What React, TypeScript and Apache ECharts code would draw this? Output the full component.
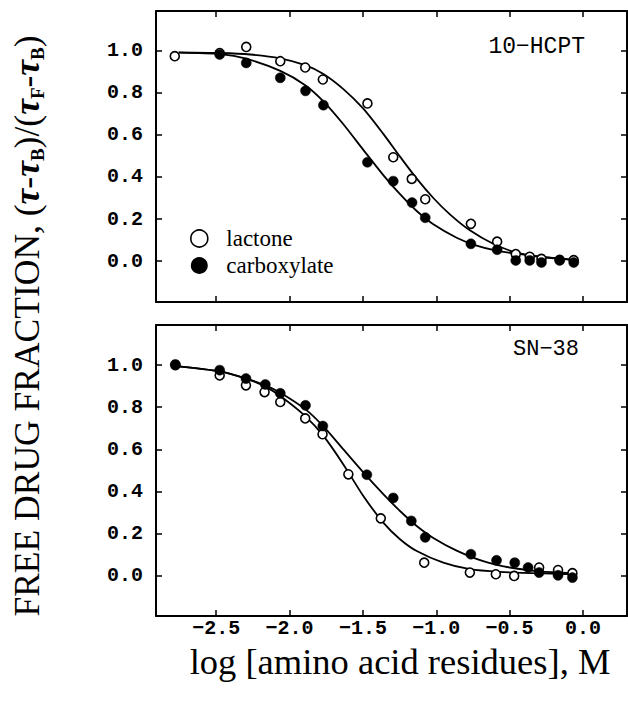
import React, { useEffect, useRef } from "react";
import * as echarts from "echarts";

// ---- axis ticks ----
const xTicks = [-2.5, -2.0, -1.5, -1.0, -0.5, 0.0];
const yTicks = [0.0, 0.2, 0.4, 0.6, 0.8, 1.0];

// ---- panel labels ----
const topPanelLabel = "10\u2212HCPT";
const bottomPanelLabel = "SN\u221238";
const legendNames = ["lactone", "carboxylate"];

// ---- 10-HCPT (top panel) measured points ----
const hcptLactone = [
  [-2.782, 0.975], [-2.476, 0.99], [-2.295, 1.019], [-2.063, 0.951], [-1.893, 0.921],
  [-1.773, 0.864], [-1.469, 0.75], [-1.293, 0.494], [-1.167, 0.391], [-1.075, 0.294],
  [-0.764, 0.177], [-0.585, 0.092], [-0.458, 0.033], [-0.363, 0.02], [-0.283, 0.01],
  [-0.159, 0.006], [-0.063, 0.004],
];
const hcptCarboxylate = [
  [-2.476, 0.983], [-2.295, 0.943], [-2.063, 0.872], [-1.891, 0.81], [-1.769, 0.742],
  [-1.469, 0.47], [-1.293, 0.38], [-1.165, 0.278], [-1.075, 0.206], [-0.764, 0.082],
  [-0.585, 0.054], [-0.458, 0.003], [-0.363, 0.003], [-0.283, -0.007], [-0.159, 0.003],
  [-0.063, -0.007],
];
// fitted curves
const hcptLactoneFit = [
  [-2.755, 0.993], [-2.471, 0.99], [-2.267, 0.983], [-2.063, 0.965], [-1.893, 0.932],
  [-1.769, 0.89], [-1.633, 0.818], [-1.497, 0.725], [-1.361, 0.605], [-1.247, 0.497],
  [-1.133, 0.392], [-1.02, 0.3], [-0.907, 0.222], [-0.771, 0.146], [-0.612, 0.082],
  [-0.453, 0.04], [-0.272, 0.018], [-0.056, 0.006],
];
const hcptCarboxylateFit = [
  [-2.755, 0.992], [-2.471, 0.985], [-2.295, 0.963], [-2.063, 0.905], [-1.893, 0.837],
  [-1.769, 0.76], [-1.633, 0.651], [-1.497, 0.529], [-1.361, 0.409], [-1.247, 0.318],
  [-1.133, 0.238], [-1.02, 0.175], [-0.861, 0.111], [-0.725, 0.073], [-0.589, 0.049],
  [-0.453, 0.035], [-0.272, 0.02], [-0.056, 0.005],
];

// ---- SN-38 (bottom panel) measured points ----
const snLactone = [
  [-2.778, 1.0], [-2.476, 0.951], [-2.297, 0.904], [-2.17, 0.872], [-2.063, 0.825],
  [-1.893, 0.747], [-1.775, 0.672], [-1.599, 0.482], [-1.378, 0.273], [-1.082, 0.063],
  [-0.771, 0.016], [-0.594, 0.008], [-0.469, 0.0], [-0.299, 0.04], [-0.17, 0.028],
  [-0.072, 0.013],
];
const snCarboxylate = [
  [-2.778, 1.003], [-2.476, 0.976], [-2.297, 0.936], [-2.165, 0.908], [-2.063, 0.866],
  [-1.891, 0.809], [-1.773, 0.711], [-1.473, 0.48], [-1.293, 0.37], [-1.17, 0.261],
  [-1.075, 0.183], [-0.764, 0.103], [-0.589, 0.074], [-0.465, 0.063], [-0.374, 0.04],
  [-0.299, 0.016], [-0.17, 0.003], [-0.072, -0.008],
];
const snLactoneFit = [
  [-2.778, 0.995], [-2.476, 0.97], [-2.297, 0.936], [-2.165, 0.898], [-2.063, 0.853],
  [-1.893, 0.758], [-1.769, 0.664], [-1.633, 0.529], [-1.497, 0.379], [-1.361, 0.253],
  [-1.247, 0.174], [-1.133, 0.118], [-0.952, 0.063], [-0.771, 0.032], [-0.567, 0.019],
  [-0.34, 0.013], [-0.068, 0.008],
];
const snCarboxylateFit = [
  [-2.778, 0.995], [-2.476, 0.97], [-2.297, 0.936], [-2.165, 0.904], [-2.063, 0.869],
  [-1.893, 0.791], [-1.769, 0.709], [-1.633, 0.6], [-1.497, 0.491], [-1.361, 0.388],
  [-1.247, 0.308], [-1.133, 0.237], [-1.02, 0.18], [-0.861, 0.12], [-0.68, 0.07],
  [-0.499, 0.04], [-0.295, 0.022], [-0.068, 0.013],
];

const X_MIN = -2.91;
const X_MAX = 0.3;

const MONO = "Liberation Mono";
const SERIF = "Liberation Serif";

const fmtX = (v: number) => v.toFixed(1).replace("-", "\u2212");
const fmtY = (v: number) => v.toFixed(1);

function makeXAxis(gridIndex: number, position: "top" | "bottom", showLabels: boolean) {
  return {
    type: "value",
    gridIndex,
    position,
    min: X_MIN,
    max: X_MAX,
    axisLine: { show: true, onZero: false, lineStyle: { color: "#000", width: 2 } },
    axisTick: {
      show: true,
      inside: true,
      length: 6,
      customValues: xTicks,
      lineStyle: { color: "#000", width: 1.5 },
    },
    axisLabel: {
      show: showLabels,
      customValues: xTicks,
      formatter: fmtX,
      fontFamily: MONO,
      fontWeight: "bold",
      fontSize: 20,
      color: "#000",
      margin: 2,
    },
    splitLine: { show: false },
  };
}

function makeYAxis(gridIndex: number, position: "left" | "right", showLabels: boolean, min: number, max: number) {
  return {
    type: "value",
    gridIndex,
    position,
    min,
    max,
    axisLine: { show: true, onZero: false, lineStyle: { color: "#000", width: 2 } },
    axisTick: {
      show: true,
      inside: true,
      length: 6,
      customValues: yTicks,
      lineStyle: { color: "#000", width: 1.5 },
    },
    axisLabel: {
      show: showLabels,
      customValues: yTicks,
      formatter: fmtY,
      fontFamily: MONO,
      fontWeight: "bold",
      fontSize: 20,
      color: "#000",
      margin: 13,
    },
    splitLine: { show: false },
  };
}

function fitSeries(name: string, data: number[][], xi: number, yi: number) {
  return {
    name,
    type: "line",
    xAxisIndex: xi,
    yAxisIndex: yi,
    data,
    symbol: "none",
    smooth: 0.25,
    lineStyle: { color: "#000", width: 1.8 },
    z: 2,
  };
}

function pointSeries(name: string, data: number[][], xi: number, yi: number, open: boolean) {
  return {
    name,
    type: "scatter",
    xAxisIndex: xi,
    yAxisIndex: yi,
    data,
    symbol: "circle",
    symbolSize: open ? 9 : 10,
    itemStyle: open
      ? { color: "#fff", borderColor: "#000", borderWidth: 1.6, opacity: 1 }
      : { color: "#000", borderColor: "#000", borderWidth: 0.5, opacity: 1 },
    z: open ? 3 : 4,
  };
}

export default function App() {
  const ref = useRef<HTMLDivElement>(null);

  useEffect(() => {
    if (!ref.current) return;
    const chart = echarts.init(ref.current, undefined, { renderer: "svg" });
    const option = {
      animation: false,
      backgroundColor: "#fff",
      grid: [
        { left: 156, top: 11, width: 471, height: 291, containLabel: false },
        { left: 156, top: 325, width: 471, height: 291, containLabel: false },
      ],
      xAxis: [
        makeXAxis(0, "bottom", false),
        makeXAxis(0, "top", false),
        makeXAxis(1, "bottom", true),
        makeXAxis(1, "top", false),
      ],
      yAxis: [
        makeYAxis(0, "left", true, -0.195, 1.19),
        makeYAxis(0, "right", false, -0.195, 1.19),
        makeYAxis(1, "left", true, -0.19, 1.19),
        makeYAxis(1, "right", false, -0.19, 1.19),
      ],
      legend: {
        orient: "vertical",
        left: 185,
        top: 222,
        itemWidth: 44,
        itemHeight: 17,
        itemGap: 4,
        selectedMode: false,
        textStyle: { fontFamily: SERIF, fontSize: 23, color: "#000", lineHeight: 23 },
        data: [
          {
            name: legendNames[0],
            icon: "circle",
            itemStyle: { color: "#fff", borderColor: "#000", borderWidth: 1.6, opacity: 1 },
          },
          {
            name: legendNames[1],
            icon: "circle",
            itemStyle: { color: "#000", borderColor: "#000", borderWidth: 0, opacity: 1 },
          },
        ],
      },
      graphic: [
        {
          type: "text",
          x: 585,
          y: 47,
          style: {
            text: topPanelLabel,
            fontFamily: MONO,
            fontSize: 23,
            fill: "#000",
            align: "right",
            verticalAlign: "middle",
          },
        },
        {
          type: "text",
          x: 579,
          y: 349,
          style: {
            text: bottomPanelLabel,
            fontFamily: MONO,
            fontSize: 22,
            fill: "#000",
            align: "right",
            verticalAlign: "middle",
          },
        },
        {
          type: "text",
          x: 400,
          y: 661,
          style: {
            text: "log [amino acid residues], M",
            fontFamily: SERIF,
            fontSize: 36.5,
            fill: "#000",
            align: "center",
            verticalAlign: "middle",
          },
        },
        {
          type: "text",
          x: 27,
          y: 326,
          rotation: Math.PI / 2,
          style: {
            text:
              "{n|FREE DRUG FRACTION, (}{t|\u03c4}{n|-}{t|\u03c4}{s|B}{n|)/(}{t|\u03c4}{s|F}{n|-}{t|\u03c4}{s|B}{n|)}",
            align: "center",
            verticalAlign: "middle",
            fill: "#000",
            rich: {
              n: { fontFamily: SERIF, fontSize: 35.5, lineHeight: 40, fill: "#000", verticalAlign: "middle" },
              t: {
                fontFamily: SERIF,
                fontSize: 35.5,
                fontStyle: "italic",
                fontWeight: "bold",
                lineHeight: 40,
                fill: "#000",
                verticalAlign: "middle",
              },
              s: { fontFamily: SERIF, fontSize: 19, fontWeight: "bold", lineHeight: 21, fill: "#000", verticalAlign: "bottom" },
            },
          },
        },
      ],
      series: [
        fitSeries("hcpt lactone fit", hcptLactoneFit, 0, 0),
        fitSeries("hcpt carboxylate fit", hcptCarboxylateFit, 0, 0),
        pointSeries(legendNames[0], hcptLactone, 0, 0, true),
        pointSeries(legendNames[1], hcptCarboxylate, 0, 0, false),
        fitSeries("sn lactone fit", snLactoneFit, 2, 2),
        fitSeries("sn carboxylate fit", snCarboxylateFit, 2, 2),
        pointSeries(legendNames[0], snLactone, 2, 2, true),
        pointSeries(legendNames[1], snCarboxylate, 2, 2, false),
      ],
    };
    chart.setOption(option as any);
    return () => chart.dispose();
  }, []);

  return (
    <div
      ref={ref}
      style={{ position: "fixed", left: 0, top: 0, width: 628, height: 703, background: "#fff" }}
    />
  );
}
